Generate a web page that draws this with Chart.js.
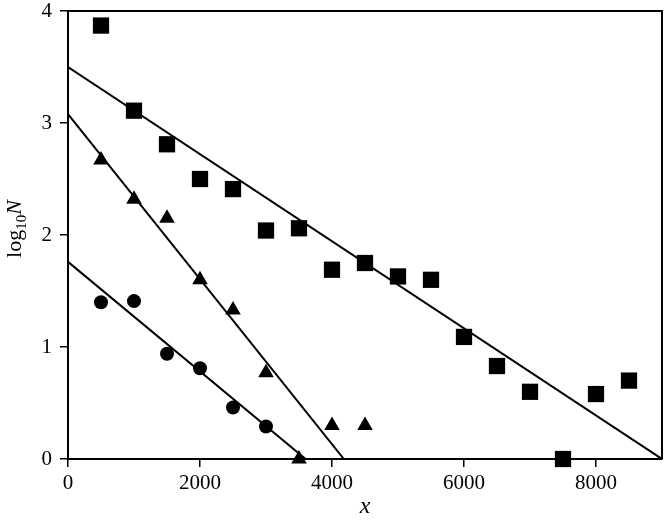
<!DOCTYPE html>
<html>
<head>
<meta charset="utf-8">
<script src="https://cdn.jsdelivr.net/npm/chart.js@4.4.1/dist/chart.umd.min.js"></script>
<style>
  html, body { margin: 0; padding: 0; background: #fff; }
  #wrap { width: 664px; height: 520px; }
</style>
</head>
<body>
<div id="wrap"><canvas id="chart" width="664" height="520"></canvas></div>
<script>
// ----- Data -----
const xValues      = [500, 1000, 1500, 2000, 2500, 3000, 3500, 4000, 4500, 5000, 5500, 6000, 6500, 7000, 7500, 8000, 8500];
const squareLogN   = [3.87, 3.11, 2.81, 2.50, 2.41, 2.04, 2.06, 1.69, 1.75, 1.63, 1.60, 1.09, 0.83, 0.60, 0.00, 0.58, 0.70];

const triangleX    = [500, 1000, 1500, 2000, 2500, 3000, 3500, 4000, 4500];
const triangleLogN = [2.67, 2.32, 2.15, 1.60, 1.33, 0.77, 0.00, 0.30, 0.30];

const circleX      = [500, 1000, 1500, 2000, 2500, 3000];
const circleLogN   = [1.40, 1.41, 0.94, 0.81, 0.46, 0.29];

// fitted lines: [x at start, x at end] and [logN at start, logN at end]
const squareFitX   = [0, 9000];
const squareFitY   = [3.5, 0];
const triangleFitX = [0, 4180];
const triangleFitY = [3.08, 0];
const circleFitX   = [0, 3600];
const circleFitY   = [1.76, 0];

const xTicks = [0, 2000, 4000, 6000, 8000];
const yTicks = [0, 1, 2, 3, 4];

// ----- Helpers -----
const pts = (xs, ys) => xs.map((x, i) => ({ x, y: ys[i] }));
const SERIF = '"Liberation Serif", "DejaVu Serif", serif';

function scatterSet(label, data, style, radius) {
  return {
    type: 'scatter', label, data,
    pointStyle: style, pointRadius: radius, pointHoverRadius: radius,
    backgroundColor: '#000', borderColor: '#000', borderWidth: 0,
    clip: false
  };
}
function fitSet(label, data) {
  return {
    type: 'line', label, data,
    borderColor: '#000', borderWidth: 2, pointRadius: 0,
    fill: false, tension: 0
  };
}

// frame + axis titles (log10N with subscript, italic x)
const decor = {
  id: 'decor',
  afterDraw(chart) {
    const { ctx, chartArea: a } = chart;
    ctx.save();
    ctx.strokeStyle = '#000';
    ctx.lineWidth = 2;
    ctx.beginPath();
    ctx.moveTo(a.left, a.top);
    ctx.lineTo(a.right, a.top);
    ctx.lineTo(a.right, a.bottom);
    ctx.stroke();

    ctx.fillStyle = '#000';
    // x title
    ctx.font = 'italic 24px ' + SERIF;
    ctx.textAlign = 'center';
    ctx.textBaseline = 'alphabetic';
    ctx.fillText('x', (a.left + a.right) / 2, 513);

    // y title, rotated
    ctx.translate(21, 229);
    ctx.rotate(-Math.PI / 2);
    ctx.textAlign = 'left';
    const parts = [
      { t: 'log', f: '22px ' + SERIF, dy: 0 },
      { t: '10',  f: '15px ' + SERIF, dy: 5 },
      { t: 'N',   f: 'italic 22px ' + SERIF, dy: 0 }
    ];
    let w = 0;
    parts.forEach(p => { ctx.font = p.f; w += ctx.measureText(p.t).width; });
    let x = -w / 2;
    parts.forEach(p => {
      ctx.font = p.f;
      ctx.fillText(p.t, x, p.dy);
      x += ctx.measureText(p.t).width;
    });
    ctx.restore();
  }
};

new Chart(document.getElementById('chart'), {
  data: {
    datasets: [
      fitSet('Square fit', pts(squareFitX, squareFitY)),
      fitSet('Triangle fit', pts(triangleFitX, triangleFitY)),
      fitSet('Circle fit', pts(circleFitX, circleFitY)),
      scatterSet('Squares', pts(xValues, squareLogN), 'rect', 11.5),
      scatterSet('Triangles', pts(triangleX, triangleLogN), 'triangle', 9),
      scatterSet('Circles', pts(circleX, circleLogN), 'circle', 7)
    ]
  },
  options: {
    responsive: false,
    animation: false,
    layout: { autoPadding: false, padding: { left: 0, right: 2, top: 11, bottom: 0 } },
    plugins: { legend: { display: false }, tooltip: { enabled: false } },
    scales: {
      x: {
        type: 'linear', min: 0, max: 9000,
        afterBuildTicks: s => { s.ticks = xTicks.map(v => ({ value: v })); },
        afterFit: s => { s.height = 61; s.paddingLeft = 0; s.paddingRight = 0; },
        grid: { drawOnChartArea: false, drawTicks: true, tickLength: 8, color: '#000', lineWidth: 1.5 },
        border: { display: true, color: '#000', width: 2 },
        ticks: { color: '#000', font: { family: SERIF, size: 21 }, padding: 4, maxRotation: 0, callback: v => String(v) }
      },
      y: {
        type: 'linear', min: 0, max: 4,
        afterBuildTicks: s => { s.ticks = yTicks.map(v => ({ value: v })); },
        afterFit: s => { s.width = 68; s.paddingTop = 0; s.paddingBottom = 0; },
        grid: { drawOnChartArea: false, drawTicks: true, tickLength: 8, color: '#000', lineWidth: 1.5 },
        border: { display: true, color: '#000', width: 2 },
        ticks: { color: '#000', font: { family: SERIF, size: 21 }, padding: 8, callback: v => String(v) }
      }
    }
  },
  plugins: [decor]
});
</script>
</body>
</html>
